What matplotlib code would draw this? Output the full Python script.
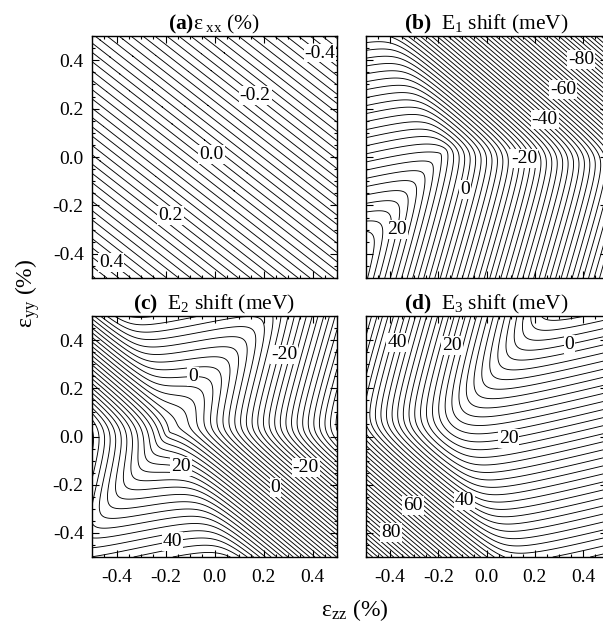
import numpy as np
import matplotlib.pyplot as plt
from matplotlib.ticker import MultipleLocator, FormatStrFormatter

plt.rcParams['font.family'] = ['Liberation Serif', 'DejaVu Serif']
plt.rcParams['mathtext.fontset'] = 'custom'
plt.rcParams['mathtext.rm'] = 'Liberation Serif'
plt.rcParams['mathtext.it'] = 'Liberation Serif:italic'
plt.rcParams['mathtext.bf'] = 'Liberation Serif:bold'
plt.rcParams['contour.negative_linestyle'] = 'solid'

# strain axes (%)
ezz = np.linspace(-0.5, 0.5, 301)
eyy = np.linspace(-0.5, 0.5, 301)

# (a) in-plane strain exx = -(k_zz*ezz + k_yy*eyy)
exx_k = [0.41, 0.52]

# three band branches Z, X, Y: slope along ezz, slope along eyy (meV/%), offset (meV)
slope_zz = [-92.0, -88.0, 15.0]
slope_yy = [-108.0, 26.0, -60.0]
offset = [0.0, -3.4, 17.0]
# couplings Z-X, Z-Y, X-Y (meV)
coupling = [4.0, 4.0, 3.5]

# contour levels
exx_levels = np.round(np.arange(-0.6, 0.62, 0.02), 2)
shift_levels = np.arange(-140, 142, 2)

# labelled levels and label spots (ezz, eyy)
a_lab = [0.4, 0.2, 0.0, -0.2, -0.4]
a_pos = [(-0.44, -0.46), (-0.185, -0.25), (-0.02, 0.0), (0.15, 0.234), (0.45, 0.455)]
b_lab = [20, 0, -20, -40, -60, -80]
b_pos = [(-0.37, -0.30), (-0.027, -0.15), (0.19, 0.0), (0.255, 0.17), (0.33, 0.29), (0.39, 0.40)]
c_lab = [0, 20, 0, -20, 40, -20]
c_pos = [(-0.088, 0.34), (-0.124, -0.07), (0.23, -0.235), (0.35, -0.155), (-0.18, -0.39), (0.43, 0.30)]
d_lab = [40, 20, 0, 20, 40, 60, 80]
d_pos = [(-0.41, 0.40), (-0.13, 0.375), (0.33, 0.45), (0.085, 0.03), (-0.10, -0.28), (-0.30, -0.28), (-0.39, -0.39)]

X, Y = np.meshgrid(ezz, eyy)

# panel (a)
exx = -(exx_k[0] * X + exx_k[1] * Y)

# panels (b)-(d): sorted eigenvalues of the coupled 3x3 band matrix
H = np.zeros(X.shape + (3, 3))
for i in range(3):
    H[..., i, i] = slope_zz[i] * X + slope_yy[i] * Y + offset[i]
for (i, j), v in zip([(0, 1), (0, 2), (1, 2)], coupling):
    H[..., i, j] = v
    H[..., j, i] = v
E = np.linalg.eigvalsh(H)

fig = plt.figure(figsize=(6.03, 6.25), dpi=100)
W, Hpx = 603.0, 625.0


def make_ax(left, top, w, h):
    return fig.add_axes([left / W, 1 - (top + h) / Hpx, w / W, h / Hpx])


axa = make_ax(92, 36, 245, 242)
axb = make_ax(366, 36, 241, 242)
axc = make_ax(92, 316, 245, 241)
axd = make_ax(366, 316, 241, 241)

panels = [
    (axa, exx, exx_levels, a_lab, a_pos, lambda v: f"{v + 0:.1f}",
     r"$\mathbf{(a)}$ε$_{\ \rm xx}$ (%)"),
    (axb, E[..., 0], shift_levels, b_lab, b_pos, lambda v: f"{v:.0f}",
     r"$\mathbf{(b)}$  E$_1$ shift (meV)"),
    (axc, E[..., 1], shift_levels, c_lab, c_pos, lambda v: f"{v:.0f}",
     r"$\mathbf{(c)}$  E$_2$ shift (meV)"),
    (axd, E[..., 2], shift_levels, d_lab, d_pos, lambda v: f"{v:.0f}",
     r"$\mathbf{(d)}$  E$_3$ shift (meV)"),
]

for ax, field, levels, lab, pos, fmt, title in panels:
    lab_levels = sorted(set(lab))
    plain = [v for v in levels if not np.any(np.isclose(v, lab_levels))]
    ax.contour(X, Y, field, levels=plain, colors='k', linewidths=0.65)
    cs = ax.contour(X, Y, field, levels=lab_levels, colors='k', linewidths=0.65)
    txt = ax.clabel(cs, manual=pos, fmt=fmt, inline=False, fontsize=14)
    for t in txt:
        t.set_rotation(0)
        t.set_bbox(dict(boxstyle='square,pad=0.05', fc='white', ec='none'))
    ax.set_xlim(-0.5, 0.5)
    ax.set_ylim(-0.5, 0.5)
    ax.set_xticks([-0.4, -0.2, 0.0, 0.2, 0.4])
    ax.set_yticks([-0.4, -0.2, 0.0, 0.2, 0.4])
    ax.xaxis.set_minor_locator(MultipleLocator(0.05))
    ax.yaxis.set_minor_locator(MultipleLocator(0.05))
    ax.xaxis.set_major_formatter(FormatStrFormatter('%.1f'))
    ax.yaxis.set_major_formatter(FormatStrFormatter('%.1f'))
    ax.tick_params(which='both', direction='in', top=True, right=True,
                   labelsize=14, width=0.8)
    ax.tick_params(axis='x', which='major', pad=9)
    ax.tick_params(axis='y', which='major', pad=6)
    ax.tick_params(which='major', length=5)
    ax.tick_params(which='minor', length=2.5)
    for s in ax.spines.values():
        s.set_linewidth(1.0)
    ax.set_title(title, fontsize=15.5, pad=5)

axa.tick_params(labelbottom=False)
axb.tick_params(labelbottom=False, labelleft=False)
axd.tick_params(labelleft=False)

fig.text(28 / W, 1 - 293 / Hpx, r"ε$_{\rm yy}$ (%)", rotation=90,
         ha='center', va='center', fontsize=17)
fig.text(355 / W, 1 - 610 / Hpx, r"ε$_{\rm zz}$ (%)",
         ha='center', va='center', fontsize=17)

fig.savefig('out.png', dpi=100)
